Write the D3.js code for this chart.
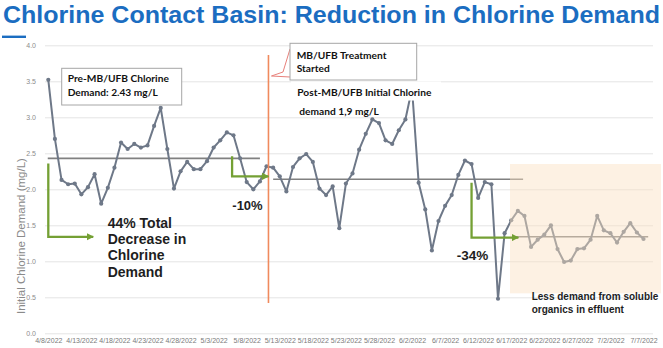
<!DOCTYPE html>
<html>
<head>
<meta charset="utf-8">
<script src="https://cdn.jsdelivr.net/npm/d3@7"></script>
<style>
  html, body { margin: 0; padding: 0; background: #fff; }
  svg { display: block; }
</style>
</head>
<body>
<script>
// Daily initial chlorine demand (mg/L), 4/8/2022 through 7/7/2022
const startDate = "4/8/2022";
const demand = [
  3.52, 2.70, 2.13, 2.07, 2.08, 1.93, 2.03, 2.21, 1.80, 2.02,
  2.30, 2.65, 2.56, 2.63, 2.58, 2.61, 2.88, 3.13, 2.56, 2.01,
  2.25, 2.38, 2.28, 2.28, 2.39, 2.58, 2.68, 2.79, 2.75, 2.43,
  2.10, 2.00, 2.11, 2.32, 2.30, 2.18, 1.97, 2.31, 2.43, 2.49,
  2.38, 2.01, 1.92, 2.04, 1.46, 2.08, 2.22, 2.55, 2.77, 2.97,
  2.92, 2.68, 2.63, 2.82, 2.97, 3.40, 2.09, 1.72, 1.15, 1.56,
  1.77, 1.92, 2.20, 2.40, 2.35, 1.88, 2.10, 2.07, 0.48, 1.39,
  1.57, 1.70, 1.63, 1.20, 1.30, 1.37, 1.50, 1.17, 0.99, 1.01,
  1.17, 1.18, 1.30, 1.63, 1.43, 1.39, 1.26, 1.41, 1.53, 1.40,
  1.31
];
const xTickLabels = ["4/8/2022", "4/13/2022", "4/18/2022", "4/23/2022", "4/28/2022",
  "5/3/2022", "5/8/2022", "5/13/2022", "5/18/2022", "5/23/2022", "5/28/2022",
  "6/2/2022", "6/7/2022", "6/12/2022", "6/17/2022", "6/22/2022", "6/27/2022",
  "7/2/2022", "7/7/2022"];
const yTicks = [0, 0.5, 1, 1.5, 2, 2.5, 3, 3.5, 4];

// Period averages: [from day offset, to day offset, mg/L]
const preMean = [-0.1, 32, 2.43];
const postMean = [34, 71.8, 2.14];
const effluentMean = [70.7, 90.7, 1.34];
// Reduction arrows: [day offset, top mg/L, bottom mg/L, end day offset]
const arrowTotal = [0, 2.36, 1.34, 6.8];
const arrow10 = [27.8, 2.46, 2.18, 33.3];
const arrow34 = [64, 2.09, 1.33, 71.1];
const treatmentStart = 33.3;

const W = 663, H = 348;
const parse = d3.timeParse("%m/%d/%Y");
const fmt = d3.timeFormat("%-m/%-d/%Y");
const t0 = parse(startDate);
const series = demand.map((v, i) => ({ date: d3.timeDay.offset(t0, i), v }));

const x = d3.scaleTime()
  .domain([t0, series[series.length - 1].date])
  .range([48.3, 643.5]);
const y = d3.scaleLinear().domain([0, 4]).range([333.3, 45.3]);
const xd = d => x(d3.timeHour.offset(t0, Math.round(d * 24)));

const gridLeft = 45, gridRight = 653;

const svg = d3.select("body").append("svg")
  .attr("width", W).attr("height", H)
  .style("font-family", "'Liberation Sans', Arial, sans-serif");

// Title
svg.append("text")
  .attr("x", 3).attr("y", 22.7)
  .attr("textLength", 657).attr("lengthAdjust", "spacingAndGlyphs")
  .style("font-size", "24px").style("font-weight", "bold")
  .attr("fill", "#1b6dc1")
  .text("Chlorine Contact Basin: Reduction in Chlorine Demand");
svg.append("rect").attr("x", 2).attr("y", 35.6).attr("width", 24).attr("height", 2.4)
  .attr("fill", "#1b6dc1");

// Y axis with gridlines
const yAxis = svg.append("g")
  .attr("transform", `translate(${gridLeft},0)`)
  .call(d3.axisLeft(y).tickValues(yTicks).tickFormat(d3.format(".1f"))
    .tickSize(-(gridRight - gridLeft)).tickPadding(9));
yAxis.select(".domain").remove();
yAxis.selectAll(".tick line").attr("stroke", "#e4e4e4").attr("stroke-width", 1);
yAxis.selectAll(".tick text").attr("fill", "#8c8c8c")
  .style("font-size", "7px").style("font-family", "'Liberation Sans', Arial, sans-serif");

// X axis labels
const xAxis = svg.append("g")
  .attr("transform", `translate(0,${y(0)})`)
  .call(d3.axisBottom(x).tickValues(xTickLabels.map(parse)).tickFormat(fmt)
    .tickSize(0).tickPadding(5));
xAxis.select(".domain").remove();
xAxis.selectAll(".tick text").attr("fill", "#7a7a7a")
  .style("font-size", "7px").style("font-family", "'Liberation Sans', Arial, sans-serif");

// Y axis title
svg.append("text")
  .attr("transform", `translate(20.5,${(y(0.15) + y(2.55)) / 2}) rotate(-90)`)
  .attr("text-anchor", "middle").attr("dominant-baseline", "central")
  .attr("fill", "#8a8a8a").style("font-size", "11.5px")
  .text("Initial Chlorine Demand (mg/L)");

// Period average lines
[preMean, postMean, effluentMean].forEach(([a, b, v]) => {
  svg.append("line")
    .attr("x1", xd(a)).attr("x2", xd(b)).attr("y1", y(v)).attr("y2", y(v))
    .attr("stroke", "#808080").attr("stroke-width", 1.6);
});

// Demand series
const lineColor = "#6e7888";
svg.append("path").datum(series)
  .attr("fill", "none").attr("stroke", lineColor).attr("stroke-width", 2)
  .attr("stroke-linejoin", "round")
  .attr("d", d3.line().x(d => x(d.date)).y(d => y(d.v)));
svg.append("g").selectAll("circle").data(series).join("circle")
  .attr("cx", d => x(d.date)).attr("cy", d => y(d.v)).attr("r", 2.1)
  .attr("fill", lineColor);

// Pre-treatment note
svg.append("rect").attr("x", 61.7).attr("y", 68.3).attr("width", 120).attr("height", 36.7)
  .attr("fill", "#fff").attr("stroke", "#a6a6a6").attr("stroke-width", 1);
const boxFont = "Lato, 'Open Sans', sans-serif";
svg.append("text").attr("x", 67.7).attr("y", 82.2)
  .style("font-family", boxFont).style("font-size", "10.2px").style("font-weight", "bold")
  .attr("fill", "#111").text("Pre-MB/UFB Chlorine");
svg.append("text").attr("x", 67.7).attr("y", 95.6)
  .style("font-family", boxFont).style("font-size", "10.2px").style("font-weight", "bold")
  .attr("fill", "#111").text("Demand: 2.43 mg/L");

// Post-treatment note
svg.append("rect").attr("x", 291).attr("y", 81.5).attr("width", 150).attr("height", 19)
  .attr("fill", "#fff");
svg.append("text").attr("x", 297.3).attr("y", 95.5)
  .style("font-family", boxFont).style("font-size", "10.2px").style("font-weight", "bold")
  .attr("fill", "#111").text("Post-MB/UFB Initial Chlorine");
svg.append("text").attr("x", 299.3).attr("y", 114.5)
  .style("font-family", boxFont).style("font-size", "10.2px").style("font-weight", "bold")
  .attr("fill", "#111").text("demand 1,9 mg/L");

// Treatment start marker
const xs = xd(treatmentStart);
svg.append("line").attr("x1", xs).attr("x2", xs).attr("y1", 55).attr("y2", 303)
  .attr("stroke", "#f08a5d").attr("stroke-width", 1.6);

// Callout for treatment start
svg.append("path")
  .attr("d", `M290,49 L283,72 L${xs + 3},76 L290,77`)
  .attr("fill", "#fff").attr("stroke", "#e8807a").attr("stroke-width", 1);
svg.append("rect").attr("x", 290).attr("y", 43.3).attr("width", 126.7).attr("height", 36.7)
  .attr("fill", "#fff").attr("stroke", "#a6a6a6").attr("stroke-width", 1);
svg.append("text").attr("x", 296.7).attr("y", 59)
  .style("font-family", boxFont).style("font-size", "10.2px").style("font-weight", "bold")
  .attr("fill", "#111").text("MB/UFB Treatment");
svg.append("text").attr("x", 296.7).attr("y", 72)
  .style("font-family", boxFont).style("font-size", "10.2px").style("font-weight", "bold")
  .attr("fill", "#111").text("Started");

// Effluent period highlight
svg.append("rect").attr("x", 510).attr("y", 164).attr("width", 151).attr("height", 129.3)
  .attr("fill", "rgb(250,224,193)").attr("fill-opacity", 0.45);

// Reduction arrows
const green = "#74a034";
const defs = svg.append("defs");
defs.append("marker").attr("id", "ah").attr("viewBox", "0 0 10 10")
  .attr("refX", 9).attr("refY", 5).attr("markerWidth", 3.2).attr("markerHeight", 3.2)
  .attr("markerUnits", "strokeWidth").attr("orient", "auto")
  .append("path").attr("d", "M0,0 L10,5 L0,10 Z").attr("fill", green);
[arrowTotal, arrow10, arrow34].forEach(([d, top, bot, end]) => {
  svg.append("path")
    .attr("d", `M${xd(d)},${y(top)} L${xd(d)},${y(bot)} L${xd(end)},${y(bot)}`)
    .attr("fill", "none").attr("stroke", green).attr("stroke-width", 2.3)
    .attr("marker-end", "url(#ah)");
});

// Reduction labels
const big = svg.append("g").attr("fill", "#1e1e1e").style("font-weight", "bold");
["44% Total", "Decrease in", "Chlorine", "Demand"].forEach((s, i) => {
  big.append("text").attr("x", 107.7).attr("y", 227.7 + i * 16.3)
    .style("font-size", "14px").text(s);
});
big.append("text").attr("x", 232.3).attr("y", 209.7).style("font-size", "13px").text("-10%");
big.append("text").attr("x", 456.7).attr("y", 259.8).style("font-size", "13.5px").text("-34%");
big.append("text").attr("x", 531.7).attr("y", 300.3).style("font-size", "10px")
  .text("Less demand from soluble");
big.append("text").attr("x", 531.7).attr("y", 312.9).style("font-size", "10px")
  .text("organics in effluent");
</script>
</body>
</html>
